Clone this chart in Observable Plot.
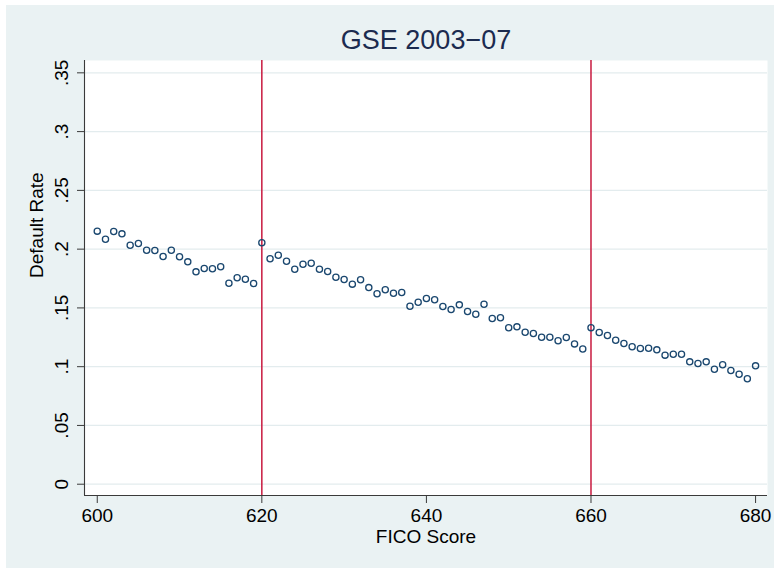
<!DOCTYPE html>
<html>
<head>
<meta charset="utf-8">
<script src="https://cdn.jsdelivr.net/npm/d3@7"></script>
<script src="https://cdn.jsdelivr.net/npm/@observablehq/plot@0.6"></script>
<style>
  html, body { margin: 0; padding: 0; background: #ffffff; }
  #wrap { position: relative; width: 774px; height: 569px; overflow: hidden; }
  #bg { position: absolute; left: 6px; top: 5px; width: 768px; height: 563px; background: #eaf2f3; }
  #chart { position: absolute; left: 0; top: 0; }
</style>
</head>
<body>
<div id="wrap"><div id="bg"></div><div id="chart"></div></div>
<script>
const title = "GSE 2003\u221207";
const xTitle = "FICO Score";
const yTitle = "Default Rate";
const fico = d3.range(600, 681);
const defaultRate = [
  0.2153, 0.2084, 0.2150, 0.2130, 0.2033, 0.2048, 0.1991, 0.1988, 0.1937, 0.1991,
  0.1935, 0.1892, 0.1807, 0.1835, 0.1833, 0.1850, 0.1710, 0.1756, 0.1744, 0.1708,
  0.2055, 0.1918, 0.1948, 0.1897, 0.1829, 0.1872, 0.1880, 0.1829, 0.1810, 0.1761,
  0.1742, 0.1702, 0.1739, 0.1673, 0.1620, 0.1654, 0.1625, 0.1631, 0.1514, 0.1548,
  0.1580, 0.1569, 0.1512, 0.1487, 0.1526, 0.1469, 0.1446, 0.1531, 0.1410, 0.1416,
  0.1331, 0.1339, 0.1293, 0.1282, 0.1251, 0.1251, 0.1220, 0.1248, 0.1194, 0.1151,
  0.1332, 0.1291, 0.1265, 0.1225, 0.1197, 0.1169, 0.1155, 0.1157, 0.1143, 0.1098,
  0.1106, 0.1106, 0.1041, 0.1027, 0.1041, 0.0978, 0.1016, 0.0967, 0.0936, 0.0897,
  0.1007
];
const cutoffs = [620, 660];
const xTicks = [600, 620, 640, 660, 680];
const yTicks = [0, 0.05, 0.1, 0.15, 0.2, 0.25, 0.3, 0.35];
const yTickLabels = ["0", ".05", ".1", ".15", ".2", ".25", ".3", ".35"];
const xDomain = [598.45, 681.45];
const yDomain = [-0.0096, 0.3605];

const data = fico.map((f, i) => ({fico: f, rate: defaultRate[i]}));
const font = "'Liberation Sans', Arial, Helvetica, sans-serif";
const axisColor = "#3a3a3a";

const plot = Plot.plot({
  width: 774,
  height: 569,
  marginTop: 60,
  marginBottom: 74,
  marginLeft: 84,
  marginRight: 7,
  style: {background: "transparent", fontFamily: font, color: "#000"},
  x: {domain: xDomain, axis: null},
  y: {domain: yDomain, axis: null},
  marks: [
    Plot.frame({fill: "white", stroke: null}),
    Plot.ruleY(yTicks, {stroke: "#e3ecee", strokeWidth: 1.3}),
    Plot.ruleX(cutoffs, {stroke: "#c8193f", strokeWidth: 1.5}),
    Plot.dot(data, {x: "fico", y: "rate", r: 3.1, stroke: "#1a476f", strokeWidth: 1.3, fill: "none"}),
    Plot.ruleX([xDomain[0]], {stroke: axisColor, strokeWidth: 1.1}),
    Plot.ruleY([yDomain[0]], {stroke: axisColor, strokeWidth: 1.1}),
    Plot.axisX({ticks: xTicks, tickSize: 8, tickPadding: 5, fontSize: 19, tickFormat: d => String(d), stroke: axisColor, fill: "#000", label: null}),
    Plot.axisY({ticks: yTicks, tickSize: 7, tickFormat: () => "", stroke: axisColor, label: null}),
    Plot.text(yTicks, {y: d => d, text: (d, i) => yTickLabels[i], frameAnchor: "left", rotate: -90, dx: -22.5, fontSize: 19, textAnchor: "middle", lineAnchor: "middle", fill: "#000"}),
    Plot.text([xTitle], {text: d => d, frameAnchor: "bottom", dy: 41.5, fontSize: 19, lineAnchor: "middle", fill: "#000"}),
    Plot.text([yTitle], {text: d => d, frameAnchor: "left", rotate: -90, dx: -48, fontSize: 19, lineAnchor: "middle", fill: "#000"}),
    Plot.text([title], {text: d => d, frameAnchor: "top", dy: -20.5, fontSize: 27, lineAnchor: "middle", fill: "#1c2b4f"})
  ]
});
document.getElementById("chart").appendChild(plot);
</script>
</body>
</html>
